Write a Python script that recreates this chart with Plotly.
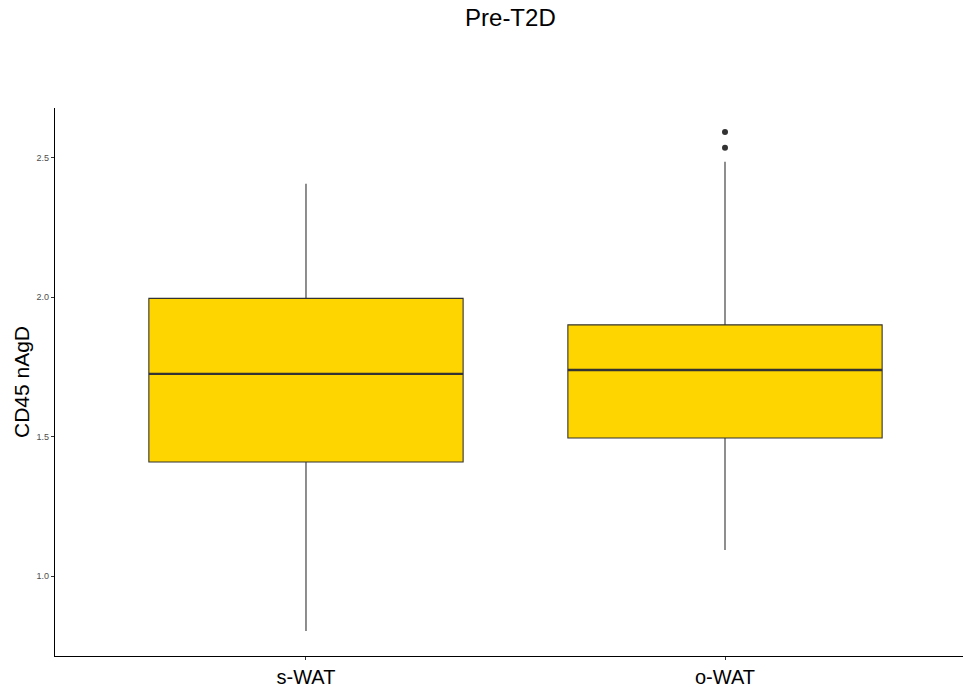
import plotly.graph_objects as go

categories = ["s-WAT", "o-WAT"]
lower_whisker = [0.803, 1.093]
q1 = [1.409, 1.495]
median = [1.725, 1.739]
q3 = [1.996, 1.901]
upper_whisker = [2.407, 2.486]
outliers = [[], [2.536, 2.593]]
y_ticks = [1.0, 1.5, 2.0, 2.5]

box_width = 0.75
xpos = list(range(len(categories)))

fig = go.Figure()
for i, cat in enumerate(categories):
    fig.add_trace(go.Box(
        x=[xpos[i]], q1=[q1[i]], median=[median[i]], q3=[q3[i]],
        lowerfence=[lower_whisker[i]], upperfence=[upper_whisker[i]],
        width=box_width, fillcolor="#FFD500",
        line=dict(color="#333333", width=1.1),
        whiskerwidth=0, boxpoints=False, showlegend=False, hoverinfo="skip",
    ))
    # thicker median line like ggplot
    fig.add_trace(go.Scatter(
        x=[xpos[i] - box_width / 2, xpos[i] + box_width / 2],
        y=[median[i], median[i]], mode="lines",
        line=dict(color="#333333", width=2.4), showlegend=False, hoverinfo="skip",
    ))
    if outliers[i]:
        fig.add_trace(go.Scatter(
            x=[xpos[i]] * len(outliers[i]), y=outliers[i], mode="markers",
            marker=dict(color="#333333", size=6), showlegend=False, hoverinfo="skip",
        ))

fig.update_layout(
    width=963, height=687,
    margin=dict(l=55, r=0, t=108, b=31, autoexpand=False),
    paper_bgcolor="white", plot_bgcolor="white",
    font=dict(family="Liberation Sans, Arial, sans-serif", color="black"),
    title=dict(text="Pre-T2D", x=0.53, xanchor="center", y=0.974, yanchor="middle",
               font=dict(size=24, color="black")),
    xaxis=dict(
        range=[-0.599, 1.568], tickvals=xpos, ticktext=categories,
        showline=True, linecolor="black", linewidth=1.2, mirror=False, automargin=False,
        ticks="outside", ticklen=3, tickcolor="#333333", showgrid=False, zeroline=False,
        tickfont=dict(size=20, color="black"),
    ),
    yaxis=dict(
        range=[0.713, 2.679], tickvals=y_ticks, ticktext=[f"{v:.1f}" for v in y_ticks],
        showline=True, linecolor="black", linewidth=1.2, automargin=False,
        ticks="outside", ticklen=3, tickcolor="#333333", showgrid=False, zeroline=False,
        tickfont=dict(size=9, color="#4d4d4d"),
        title=dict(text="CD45 nAgD", font=dict(size=21, color="black"), standoff=1),
    ),
)

fig.write_html("out.html", config={"displayModeBar": False},
               post_script="document.body.style.margin='0';document.body.style.overflow='hidden';")
